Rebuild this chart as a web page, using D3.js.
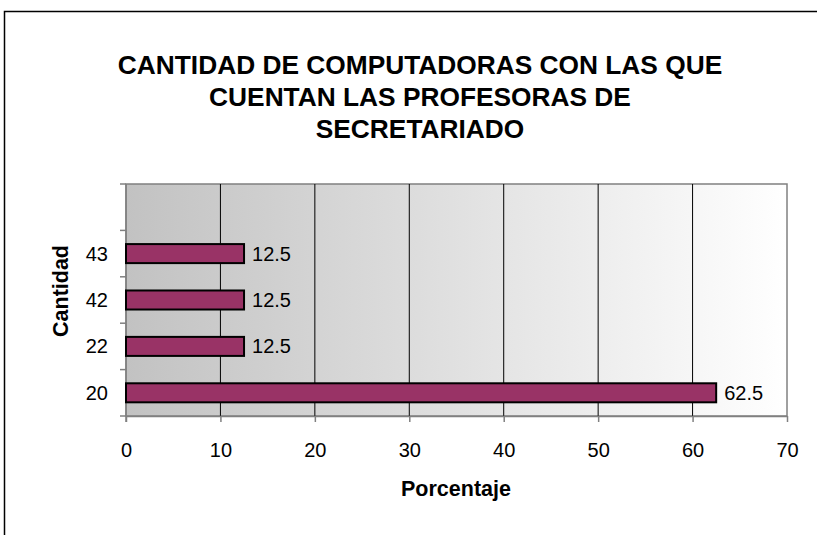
<!DOCTYPE html>
<html><head><meta charset="utf-8">
<script src="https://cdnjs.cloudflare.com/ajax/libs/d3/7.8.5/d3.min.js"></script>
<style>html,body{margin:0;padding:0;background:#fff;}svg{display:block;font-family:"Liberation Sans",Arial,sans-serif;}</style>
</head><body>
<script>
const categories = ["20", "22", "42", "43", ""];
const values = [62.5, 12.5, 12.5, 12.5, null];
const xTicks = [0, 10, 20, 30, 40, 50, 60, 70];
const titleLines = ["CANTIDAD DE COMPUTADORAS CON LAS QUE", "CUENTAN LAS PROFESORAS DE", "SECRETARIADO"];
const xLabel = "Porcentaje";
const yLabel = "Cantidad";

const W = 817, H = 535;
const FONT = "Liberation Sans, Arial, sans-serif";
const svg = d3.select("body").append("svg").attr("width", W).attr("height", H);

// outer frame
svg.append("rect").attr("x", 4.5).attr("y", 11.5).attr("width", 830).attr("height", 540)
  .attr("fill", "#fff").attr("stroke", "#000").attr("stroke-width", 1.5);

const plot = {left: 126, right: 787, top: 184, bottom: 416};
const x = d3.scaleLinear().domain([0, 70]).range([plot.left, plot.right]);
const y = d3.scaleBand().domain(categories).range([plot.bottom, plot.top]).paddingInner(0.59).paddingOuter(0.295);

const defs = svg.append("defs");
const grad = defs.append("linearGradient").attr("id", "bg").attr("x1", "0").attr("x2", "1").attr("y1", "0").attr("y2", "0");
grad.append("stop").attr("offset", "0").attr("stop-color", "#c2c2c2");
grad.append("stop").attr("offset", "1").attr("stop-color", "#ffffff");

svg.append("rect").attr("x", plot.left).attr("y", plot.top)
  .attr("width", plot.right - plot.left).attr("height", plot.bottom - plot.top)
  .attr("fill", "url(#bg)").attr("stroke", "#808080").attr("stroke-width", 1.5);

// gridlines
svg.append("g").selectAll("line").data(xTicks.filter(t => t > 0 && t < 70)).join("line")
  .attr("x1", d => x(d)).attr("x2", d => x(d)).attr("y1", plot.top).attr("y2", plot.bottom)
  .attr("stroke", "#000").attr("stroke-width", 1);

// x axis
const xAxis = svg.append("g").attr("transform", `translate(0,${plot.bottom})`)
  .call(d3.axisBottom(x).tickValues(xTicks).tickSize(6).tickPadding(21).tickSizeOuter(0));
xAxis.attr("font-size", null).attr("font-family", null);
xAxis.select(".domain").attr("stroke", "#808080").attr("stroke-width", 1.5);
xAxis.selectAll(".tick line").attr("stroke", "#808080").attr("stroke-width", 1.5);
xAxis.selectAll("text").attr("dy", null).attr("y", 41).style("font-size", "20px").attr("fill", "#000").style("font-family", FONT);

// y axis
const yBound = d3.range(categories.length + 1).map(i => plot.bottom - i * (plot.bottom - plot.top) / categories.length);
const yAxis = svg.append("g").attr("transform", `translate(${plot.left},0)`);
yAxis.append("line").attr("x1", 0).attr("x2", 0).attr("y1", plot.top).attr("y2", plot.bottom + 6)
  .attr("stroke", "#808080").attr("stroke-width", 1.5);
yAxis.selectAll("line.tk").data(yBound).join("line").attr("class", "tk")
  .attr("x1", -6).attr("x2", 0).attr("y1", d => d).attr("y2", d => d)
  .attr("stroke", "#808080").attr("stroke-width", 1.5);
yAxis.selectAll("text").data(categories).join("text")
  .attr("x", -18).attr("y", d => y(d) + y.bandwidth() / 2 + 7)
  .attr("text-anchor", "end").style("font-size", "20px").text(d => d);

// bars
const data = categories.map((c, i) => ({c, v: values[i]})).filter(d => d.v != null);
svg.append("g").selectAll("rect").data(data).join("rect")
  .attr("x", x(0)).attr("y", d => y(d.c)).attr("width", d => x(d.v) - x(0)).attr("height", y.bandwidth())
  .attr("fill", "#993366").attr("stroke", "#000").attr("stroke-width", 2);

// value labels
svg.append("g").selectAll("text").data(data).join("text")
  .attr("x", d => x(d.v) + 8).attr("y", d => y(d.c) + y.bandwidth() / 2 + 7)
  .style("font-size", "20px").text(d => d.v);

// title
svg.append("g").selectAll("text").data(titleLines).join("text")
  .attr("x", 420).attr("y", (d, i) => 74 + i * 32).attr("text-anchor", "middle")
  .style("font-size", "26.3px").attr("font-weight", "bold").text(d => d);

// axis titles
svg.append("text").attr("x", 456).attr("y", 496).attr("text-anchor", "middle")
  .style("font-size", "21.5px").attr("font-weight", "bold").text(xLabel);
svg.append("text").attr("transform", "translate(68,291) rotate(-90)").attr("text-anchor", "middle")
  .style("font-size", "21.5px").attr("font-weight", "bold").text(yLabel);
</script>
</body></html>
